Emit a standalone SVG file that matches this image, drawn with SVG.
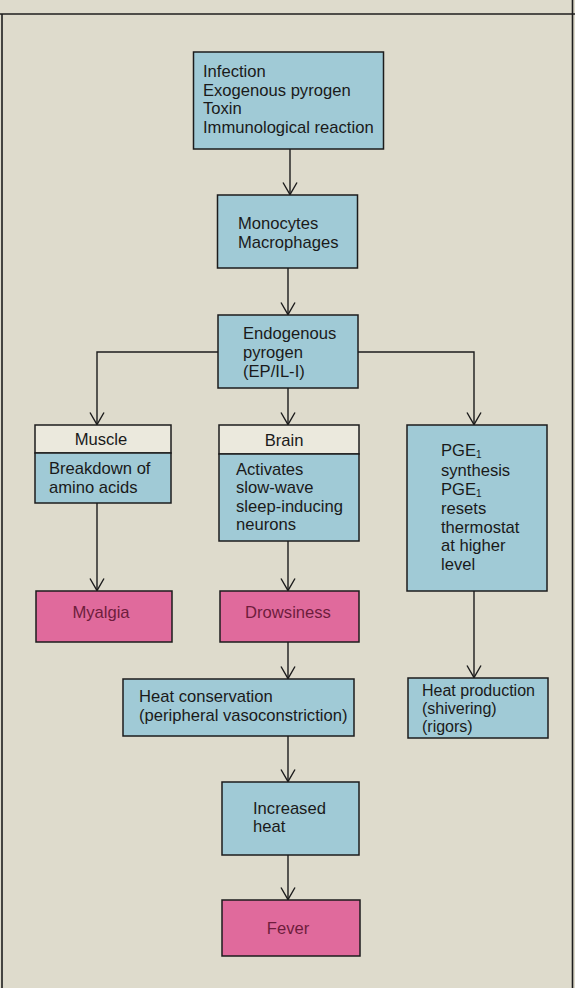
<svg xmlns="http://www.w3.org/2000/svg" width="575" height="988" viewBox="0 0 575 988">
<defs>
<style>
.bg{fill:#dedbcc}
.frame{stroke:#1e1e1e;stroke-width:1.6;fill:none}
.blue{fill:#a0cad6;stroke:#1c1c1c;stroke-width:1.5}
.pink{fill:#e06a9c;stroke:#1c1c1c;stroke-width:1.5}
.white{fill:#ebe9dd;stroke:#1c1c1c;stroke-width:1.5}
text{font-family:"Liberation Sans",Arial,Helvetica,sans-serif;font-size:16.6px;fill:#1a1a1a}
.pt{fill:#6e1d3c}
.mid{text-anchor:middle}
.ln{stroke:#1c1c1c;stroke-width:1.4;fill:none}
.sub{font-size:10px}
.sm{font-size:16px}
</style>
<marker id="ah" markerWidth="14" markerHeight="18" refX="13" refY="8" orient="auto" markerUnits="userSpaceOnUse" viewBox="0 0 14 16">
<path d="M1,1 L13,8 L1,15" fill="none" stroke="#1c1c1c" stroke-width="1.4"/>
</marker>
</defs>
<rect class="bg" x="0" y="0" width="575" height="988"/>
<g id="frame">
<line class="frame" x1="0" y1="14" x2="575" y2="14"/>
<line class="frame" x1="2" y1="14" x2="2" y2="988"/>
<line class="frame" x1="572.5" y1="0" x2="572.5" y2="988"/>
</g>
<g id="connectors">
<path class="ln" d="M290,149 V194.5" marker-end="url(#ah)"/>
<path class="ln" d="M288,268 V314.5" marker-end="url(#ah)"/>
<path class="ln" d="M288,388 V424.5" marker-end="url(#ah)"/>
<path class="ln" d="M218,352 H97 V424.5" marker-end="url(#ah)"/>
<path class="ln" d="M358,352 H474 V424.5" marker-end="url(#ah)"/>
<path class="ln" d="M97,503 V590.5" marker-end="url(#ah)"/>
<path class="ln" d="M288,541 V590.5" marker-end="url(#ah)"/>
<path class="ln" d="M474,591 V677.5" marker-end="url(#ah)"/>
<path class="ln" d="M288,642 V678.5" marker-end="url(#ah)"/>
<path class="ln" d="M288,736 V781.5" marker-end="url(#ah)"/>
<path class="ln" d="M288,855 V899.5" marker-end="url(#ah)"/>
</g>
<g id="n-causes">
<rect class="blue" x="193.5" y="52" width="190" height="97"/>
<text x="203" y="77">Infection</text>
<text x="203" y="95.6">Exogenous pyrogen</text>
<text x="203" y="114.2">Toxin</text>
<text x="203" y="132.8">Immunological reaction</text>
</g>
<g id="n-monocytes">
<rect class="blue" x="217.5" y="195" width="140" height="73"/>
<text x="238" y="229.2">Monocytes</text>
<text x="238" y="247.8">Macrophages</text>
</g>
<g id="n-endogenous">
<rect class="blue" x="218" y="315" width="140" height="73"/>
<text x="243" y="339.4">Endogenous</text>
<text x="243" y="358">pyrogen</text>
<text x="243" y="376.6">(EP/IL-I)</text>
</g>
<g id="n-muscle">
<rect class="white" x="35" y="425" width="136" height="28"/>
<rect class="blue" x="35" y="453" width="136" height="50"/>
<text class="mid" x="101" y="445">Muscle</text>
<text x="49" y="474.2">Breakdown of</text>
<text x="49" y="492.8">amino acids</text>
</g>
<g id="n-brain">
<rect class="white" x="219" y="425" width="140" height="29"/>
<rect class="blue" x="219" y="454" width="140" height="87"/>
<text class="mid" x="284" y="446">Brain</text>
<text x="236" y="474.6">Activates</text>
<text x="236" y="493.2">slow-wave</text>
<text x="236" y="511.8">sleep-inducing</text>
<text x="236" y="530.4">neurons</text>
</g>
<g id="n-pge">
<rect class="blue" x="407" y="425" width="140" height="166"/>
<text x="441" y="456">PGE<tspan class="sub" dy="2">1</tspan></text>
<text x="441" y="475.5">synthesis</text>
<text x="441" y="494.5">PGE<tspan class="sub" dy="2">1</tspan></text>
<text x="441" y="514">resets</text>
<text x="441" y="532.6">thermostat</text>
<text x="441" y="551.2">at higher</text>
<text x="441" y="569.8">level</text>
</g>
<g id="n-myalgia">
<rect class="pink" x="36" y="591" width="136" height="51"/>
<text class="mid pt" x="101" y="618">Myalgia</text>
</g>
<g id="n-drowsiness">
<rect class="pink" x="220" y="591" width="139" height="51"/>
<text class="mid pt" x="288" y="618">Drowsiness</text>
</g>
<g id="n-heatprod">
<rect class="blue" x="408" y="678" width="140" height="60"/>
<text class="sm" x="422" y="696.1">Heat production</text>
<text class="sm" x="422" y="714">(shivering)</text>
<text class="sm" x="422" y="731.9">(rigors)</text>
</g>
<g id="n-heatcons">
<rect class="blue" x="123" y="679" width="231" height="57"/>
<text x="139" y="702.2">Heat conservation</text>
<text x="139" y="720.8">(peripheral vasoconstriction)</text>
</g>
<g id="n-increased">
<rect class="blue" x="222" y="782" width="137" height="73"/>
<text x="253" y="813.7">Increased</text>
<text x="253" y="832.3">heat</text>
</g>
<g id="n-fever">
<rect class="pink" x="222" y="900" width="138" height="56"/>
<text class="mid pt" x="288" y="934">Fever</text>
</g>
</svg>
